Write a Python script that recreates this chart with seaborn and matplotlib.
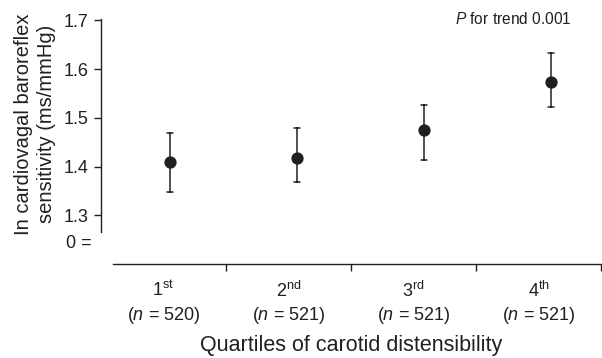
import numpy as np
import pandas as pd
import matplotlib
matplotlib.use("Agg")
import matplotlib.pyplot as plt
import seaborn as sns

# values
quartiles = ["1st", "2nd", "3rd", "4th"]
sup = ["st", "nd", "rd", "th"]
n_obs = [520, 521, 521, 521]
mean_brs = [1.409, 1.418, 1.475, 1.573]
ci_low = [1.348, 1.368, 1.414, 1.523]
ci_high = [1.470, 1.479, 1.526, 1.634]

sns.set_style("white")
plt.rcParams["font.family"] = ["Liberation Sans", "DejaVu Sans"]
plt.rcParams["mathtext.fontset"] = "custom"
plt.rcParams["mathtext.rm"] = "Liberation Sans"
plt.rcParams["mathtext.it"] = "Liberation Sans:italic"
ink = "#231f20"

# long table: low / mean / high per quartile, median = mean, range = CI
df = pd.DataFrame({
    "quartile": np.repeat(quartiles, 3),
    "brs": np.ravel(np.column_stack([ci_low, mean_brs, ci_high])),
})

fig = plt.figure(figsize=(6.02, 3.58), dpi=100)
W, H = 602, 358

# main data axes
ax = fig.add_axes([101 / W, 1 - 232 / H, 501 / W, 213 / H])
sns.pointplot(data=df, x="quartile", y="brs", order=quartiles,
              estimator="median", errorbar=lambda v: (v.min(), v.max()),
              linestyle="none", color=ink, markersize=6.8,
              err_kws={"linewidth": 1.1}, capsize=0.055, ax=ax)
ax.set_xlim(-69 / 127, 3 + 51 / 127)
ax.set_ylim(1.266, 1.703)
ax.set_yticks([1.3, 1.4, 1.5, 1.6, 1.7])
ax.set_yticklabels(["1.3", "1.4", "1.5", "1.6", "1.7"])
ax.set_xticks([])
ax.set_xlabel("")
ax.set_ylabel("")
for s in ["top", "right", "bottom"]:
    ax.spines[s].set_visible(False)
ax.spines["left"].set_color(ink)
ax.spines["left"].set_linewidth(1.0)
ax.tick_params(axis="y", left=True, direction="out", length=5, width=1.0,
               color=ink, labelcolor=ink, labelsize=13, pad=4)
ax.patch.set_alpha(0)

ax.text(0.94, 1.0, "$P$ for trend 0.001", transform=ax.transAxes,
        ha="right", va="center", fontsize=11.2, color=ink)

# separate category axis underneath (broken axis look)
bx = fig.add_axes([101 / W, 1 - 264 / H, 500 / W, 0.001])
bx.set_xlim(0, 4)
bx.set_ylim(0, 1)
bx.set_yticks([])
for s in ["top", "right", "left"]:
    bx.spines[s].set_visible(False)
bx.spines["bottom"].set_bounds(12 / 125, 4)
bx.spines["bottom"].set_color(ink)
bx.spines["bottom"].set_linewidth(1.0)
bx.set_xticks([1, 2, 3, 4])
bx.set_xticklabels([])
bx.set_xticks([0.5, 1.5, 2.5, 3.5], minor=True)
bx.set_xticklabels([f"{q[0]}$^{{\\mathrm{{{s}}}}}$\n($n$ = {n})"
                    for q, s, n in zip(quartiles, sup, n_obs)], minor=True)
bx.tick_params(axis="x", which="major", bottom=True, direction="out",
               length=5, width=1.0, color=ink)
bx.tick_params(axis="x", which="minor", bottom=False, length=0,
               labelsize=13, labelcolor=ink, pad=12)
for t in bx.get_xticklabels(minor=True):
    t.set_linespacing(1.3)
bx.set_xlabel("Quartiles of carotid distensibility", fontsize=15.5,
              color=ink, labelpad=6)

fig.text(92 / W, 1 - 243 / H, "0 =", ha="right", va="center",
         fontsize=13, color=ink)
fig.text(35 / W, 1 - 124 / H,
         "In cardiovagal baroreflex\nsensitivity (ms/mmHg)",
         rotation=90, ha="center", va="center", multialignment="center",
         fontsize=14.5, color=ink, linespacing=1.28)

fig.savefig("out.png", dpi=100)
